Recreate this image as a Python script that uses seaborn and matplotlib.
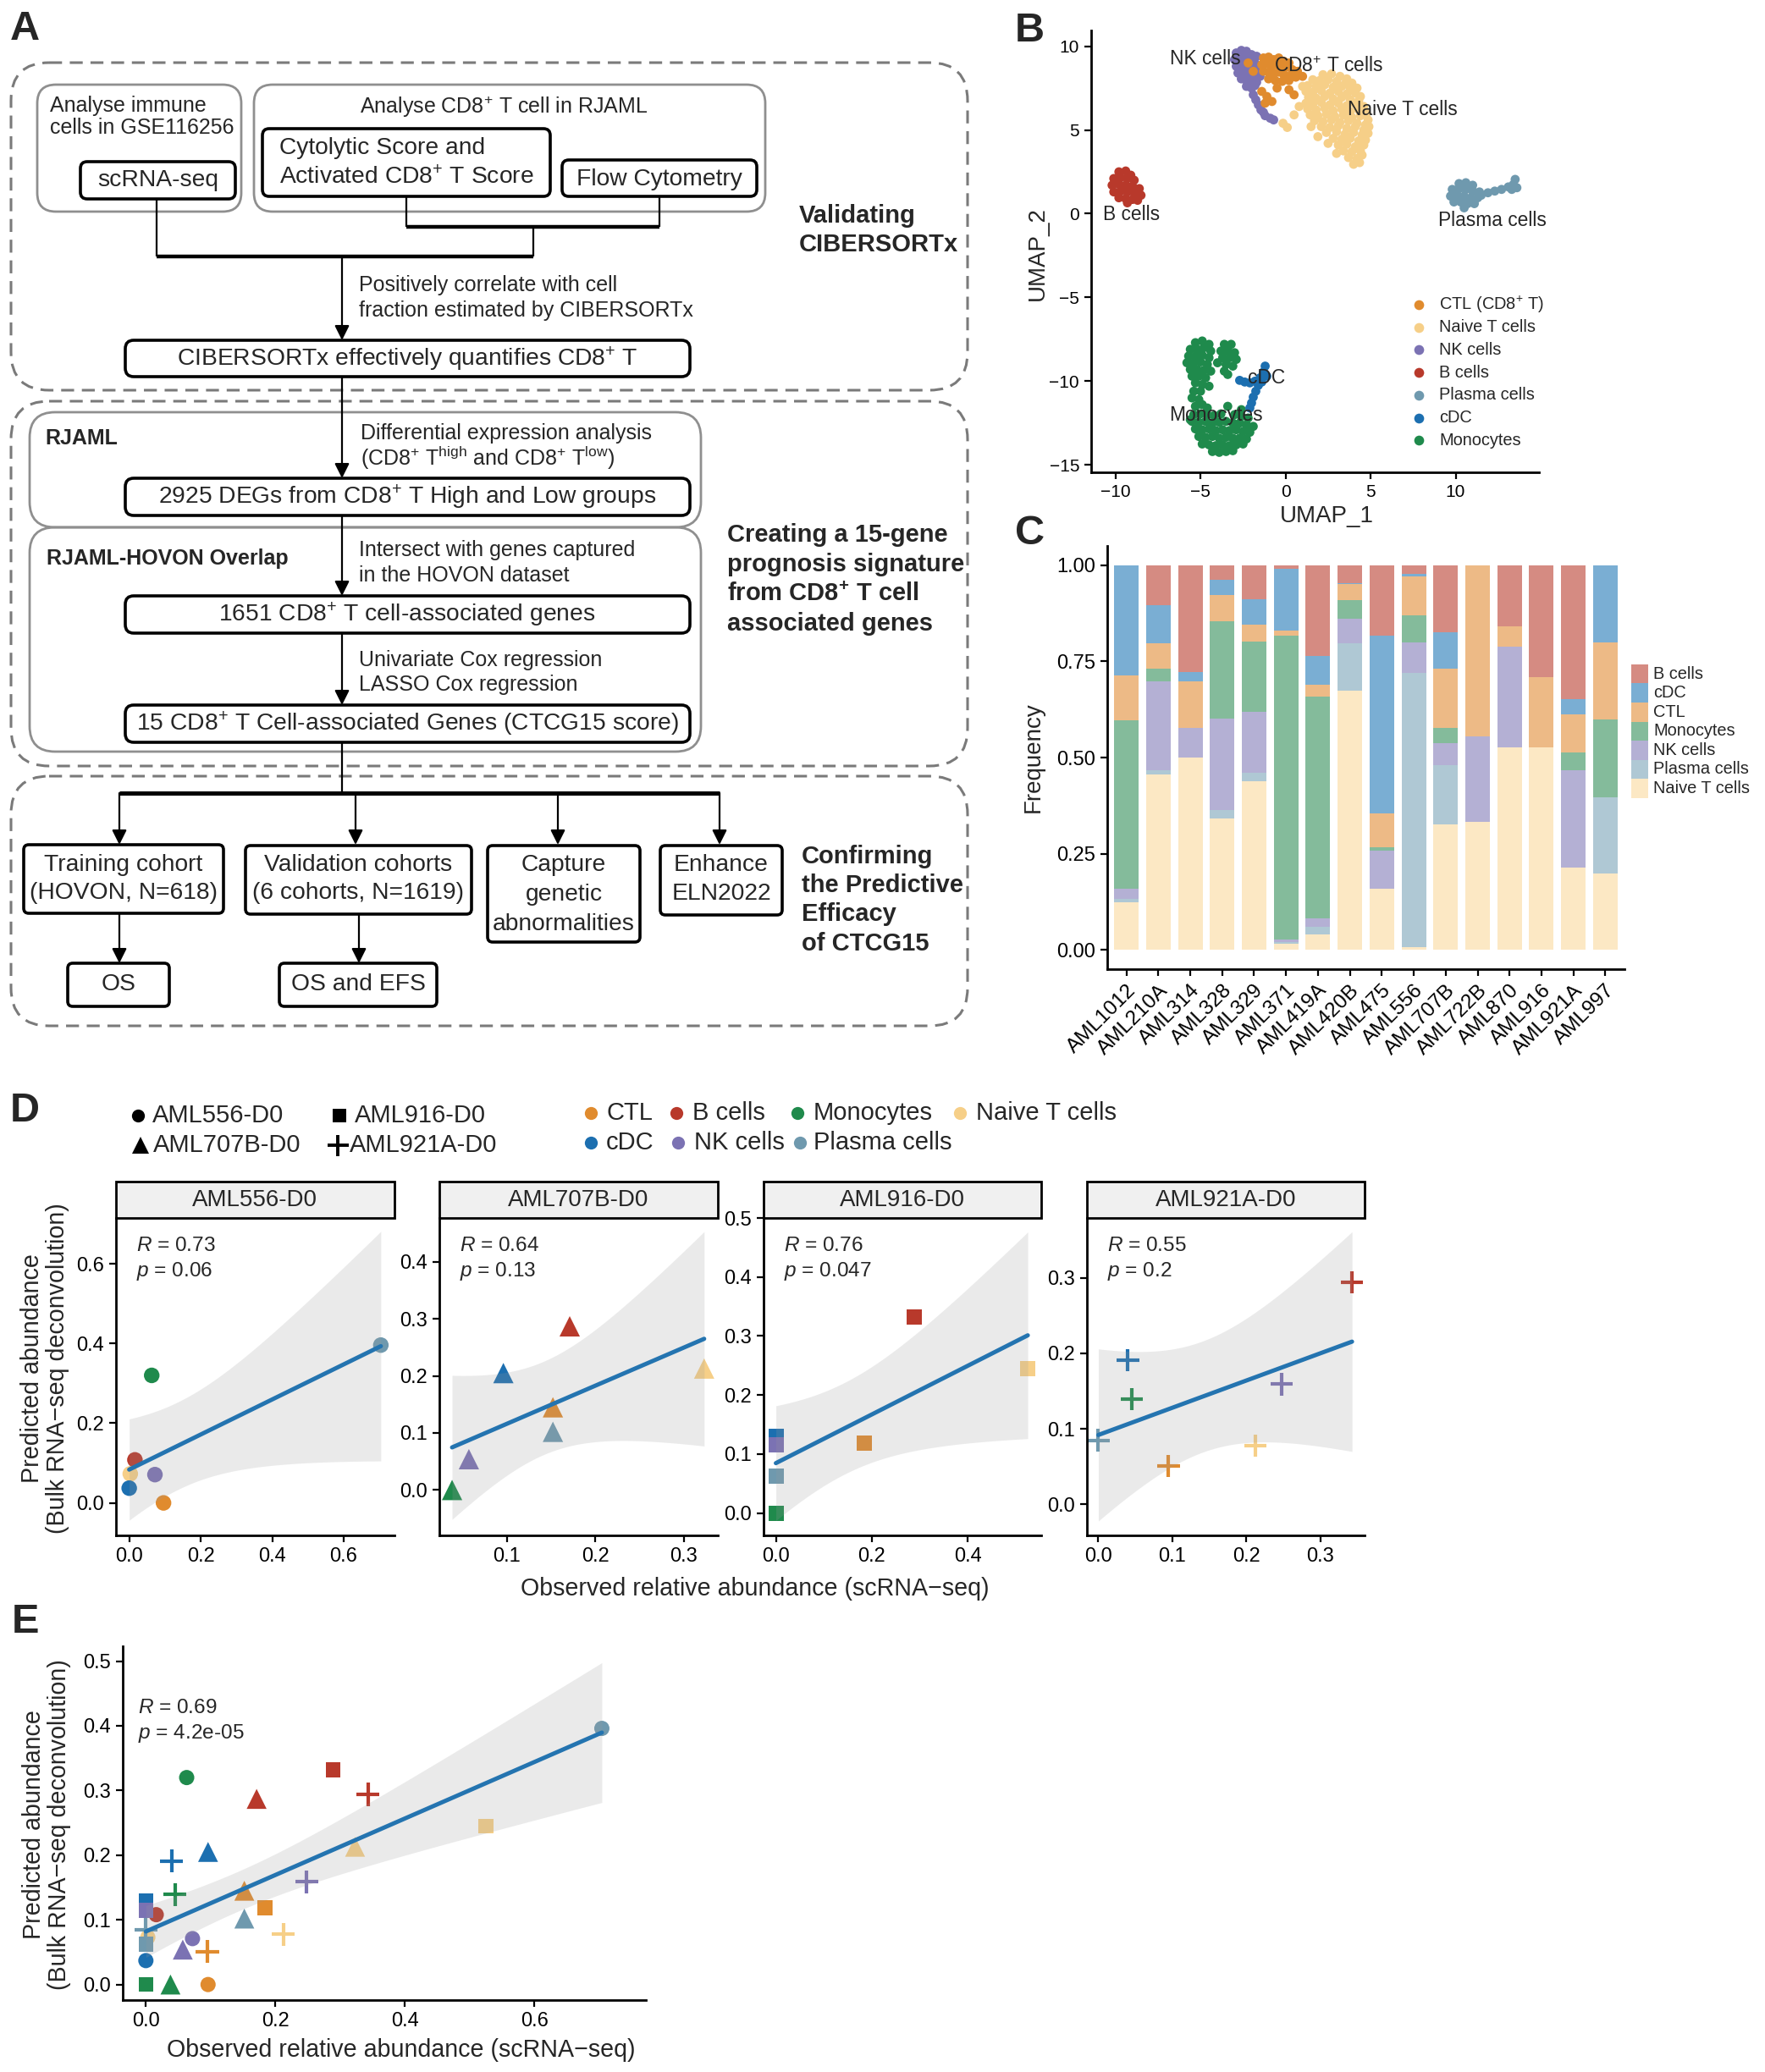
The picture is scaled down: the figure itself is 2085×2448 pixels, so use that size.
import numpy as np
import pandas as pd
import matplotlib
matplotlib.use("Agg")
import matplotlib.pyplot as plt
import seaborn as sns
from matplotlib.patches import FancyBboxPatch, Rectangle

# ---------------- panel B : UMAP points ----------------
umap_nk = [(-2.9, 9.6), (-2.6, 9.75), (-2.3, 9.7), (-2.0, 9.5), (-1.7, 9.4), (-3.0, 9.2), (-2.7, 9.3),
           (-2.4, 9.35), (-2.1, 9.15), (-1.8, 9.0), (-2.9, 8.8), (-2.6, 8.9), (-2.3, 8.75), (-2.0, 8.7),
           (-1.6, 8.6), (-2.8, 8.4), (-2.5, 8.5), (-2.2, 8.35), (-1.9, 8.3), (-1.5, 8.2), (-2.6, 8.05),
           (-2.3, 7.95), (-2.0, 7.9), (-1.7, 7.85), (-2.3, 7.6), (-2.0, 7.5), (-1.8, 7.65), (-1.9, 7.1),
           (-1.75, 6.8), (-1.6, 6.5), (-1.45, 6.2), (-1.2, 5.85), (-0.9, 5.7), (-0.7, 5.6), (-1.3, 6.05)]
umap_ctl = [(-1.3, 9.3), (-1.0, 9.35), (-0.7, 9.2), (-0.4, 9.3), (-0.1, 9.1), (0.2, 9.0), (-1.4, 8.9),
            (-1.1, 8.95), (-0.8, 8.8), (-0.5, 8.9), (-0.2, 8.7), (0.1, 8.75), (0.4, 8.6), (0.7, 8.5),
            (-1.3, 8.5), (-1.0, 8.45), (-0.7, 8.35), (-0.4, 8.45), (-0.1, 8.3), (0.3, 8.25), (0.6, 8.15),
            (1.0, 8.2), (-1.0, 8.05), (-0.6, 7.95), (-0.2, 7.9), (0.2, 7.95), (-1.4, 7.3), (-1.1, 7.0),
            (-1.2, 6.6), (-0.8, 6.7), (0.2, 7.4), (0.5, 7.1), (-0.5, 7.5), (-2.2, 9.0), (-1.9, 8.5)]
umap_naive = [(2.2, 8.3), (2.7, 8.35), (3.2, 8.2), (3.6, 8.05),
              (1.6, 8.0), (2.0, 7.95), (2.5, 8.0), (3.0, 7.9), (3.5, 7.75), (3.9, 7.8),
              (1.3, 7.65), (1.8, 7.6), (2.3, 7.7), (2.8, 7.55), (3.3, 7.6), (3.8, 7.45), (4.2, 7.5),
              (1.2, 7.3), (1.6, 7.25), (2.1, 7.35), (2.6, 7.2), (3.1, 7.3), (3.6, 7.15), (4.1, 7.2), (4.4, 7.0),
              (1.35, 6.95), (1.8, 6.9), (2.3, 7.0), (2.8, 6.85), (3.3, 6.95), (3.8, 6.8), (4.3, 6.75),
              (1.2, 6.6), (1.6, 6.55), (2.1, 6.65), (2.6, 6.5), (3.1, 6.6), (3.6, 6.45), (4.1, 6.55), (4.6, 6.4),
              (1.3, 6.25), (1.8, 6.2), (2.3, 6.3), (2.8, 6.15), (3.3, 6.25), (3.8, 6.1), (4.3, 6.2), (4.75, 6.0),
              (1.45, 5.9), (1.9, 5.85), (2.4, 5.95), (2.9, 5.8), (3.4, 5.9), (3.9, 5.75), (4.4, 5.85), (4.85, 5.6),
              (1.7, 5.55), (2.2, 5.5), (2.7, 5.6), (3.2, 5.45), (3.7, 5.55), (4.2, 5.4), (4.7, 5.3),
              (2.1, 5.2), (2.6, 5.15), (3.1, 5.25), (3.6, 5.1), (4.1, 5.2), (4.6, 5.0), (4.9, 5.2),
              (2.4, 4.85), (3.0, 4.9), (3.5, 4.75), (4.0, 4.85), (4.5, 4.7), (4.85, 4.8),
              (2.8, 4.5), (3.3, 4.45), (3.8, 4.5), (4.3, 4.35), (4.7, 4.4),
              (3.1, 4.1), (3.6, 4.15), (4.1, 4.0), (4.6, 4.1),
              (3.4, 3.75), (3.9, 3.7), (4.4, 3.75), (3.7, 3.35), (4.2, 3.3), (4.5, 3.5),
              (4.0, 2.95), (4.35, 3.05), (-0.15, 5.4), (0.1, 5.15), (0.8, 6.4), (0.5, 5.9),
              (1.0, 7.6), (1.9, 4.6), (1.5, 5.2), (3.0, 3.6), (2.5, 4.2)]
umap_b = [(-9.8, 2.5), (-9.4, 2.55), (-9.1, 2.3), (-10.1, 2.1), (-9.7, 2.15), (-9.3, 2.1), (-8.9, 2.0),
          (-10.2, 1.7), (-9.8, 1.75), (-9.4, 1.7), (-9.0, 1.65), (-8.6, 1.5), (-10.1, 1.3), (-9.7, 1.35),
          (-9.3, 1.3), (-8.9, 1.25), (-8.5, 1.1), (-9.8, 0.95), (-9.4, 0.9), (-9.0, 0.85), (-9.3, 0.65),
          (-8.7, 0.8)]
umap_plasma = [(10.2, 1.8), (10.6, 1.85), (11.0, 1.7), (9.8, 1.45), (10.2, 1.5), (10.6, 1.45), (11.0, 1.35),
               (11.4, 1.3), (9.7, 1.05), (10.1, 1.1), (10.5, 1.05), (10.9, 0.95), (11.3, 0.95), (9.9, 0.7),
               (10.3, 0.7), (10.7, 0.6), (11.1, 0.6), (10.5, 0.35), (11.5, 1.1), (11.9, 1.25), (12.3, 1.35),
               (12.7, 1.45), (13.1, 1.6), (13.4, 1.75), (13.5, 2.05), (13.3, 1.45), (13.6, 1.55)]
umap_cdc = [(-2.7, -9.95), (-2.4, -10.05), (-2.1, -10.1), (-1.8, -10.0), (-1.5, -9.8), (-1.3, -9.45),
            (-1.2, -9.1), (-1.6, -10.25), (-1.75, -10.6), (-1.9, -10.95), (-2.0, -11.3), (-2.1, -11.6),
            (-1.4, -10.05), (-1.1, -9.7)]
umap_mono = [(-5.3, -7.7), (-4.9, -7.6), (-4.5, -7.8), (-5.6, -8.1), (-5.2, -8.1), (-4.8, -8.0), (-4.4, -8.2),
             (-5.7, -8.5), (-5.3, -8.5), (-4.9, -8.45), (-4.5, -8.6), (-5.8, -8.9), (-5.4, -8.9), (-5.0, -8.85),
             (-4.6, -9.0), (-5.6, -9.3), (-5.2, -9.3), (-4.8, -9.35), (-4.4, -9.4), (-5.5, -9.7), (-5.1, -9.7),
             (-4.7, -9.8), (-5.3, -10.1), (-4.9, -10.2), (-4.5, -10.3),
             (-3.6, -7.8), (-3.2, -7.8), (-3.8, -8.2), (-3.4, -8.2), (-3.0, -8.3), (-3.7, -8.6), (-3.3, -8.6),
             (-2.9, -8.7), (-3.5, -9.0), (-3.1, -9.1), (-3.6, -9.4), (-4.0, -8.9), (-3.4, -9.6),
             (-5.4, -10.6), (-5.0, -10.6), (-5.5, -11.0), (-5.1, -11.1), (-5.3, -11.5), (-4.9, -11.4), (-4.6, -11.6),
             (-3.4, -11.5), (-2.6, -11.7), (-5.4, -12.0), (-5.0, -11.95), (-4.6, -12.0),
             (-4.2, -12.05), (-3.8, -11.95), (-3.0, -12.0), (-2.6, -12.1), (-2.2, -12.2),
             (-5.5, -12.4), (-5.1, -12.45), (-4.7, -12.4), (-4.3, -12.5), (-3.9, -12.45), (-3.5, -12.4),
             (-3.1, -12.5), (-2.7, -12.5), (-2.3, -12.6), (-1.9, -12.7), (-5.3, -12.85), (-4.9, -12.9),
             (-4.5, -12.85), (-4.1, -12.95), (-3.7, -12.9), (-3.3, -12.95), (-2.9, -12.9), (-2.5, -13.0),
             (-2.1, -13.05), (-5.1, -13.3), (-4.7, -13.35), (-4.3, -13.3), (-3.9, -13.4), (-3.5, -13.35),
             (-3.1, -13.4), (-2.7, -13.4), (-2.3, -13.45), (-4.9, -13.75), (-4.5, -13.8), (-4.1, -13.85),
             (-3.7, -13.8), (-3.3, -13.85), (-2.9, -13.8), (-2.5, -13.75), (-4.3, -14.2), (-3.9, -14.25),
             (-3.5, -14.2), (-3.1, -14.15), (-5.6, -12.3)]
umap_labels = ["NK cells", "CD8$^{+}$ T cells", "Naive T cells", "B cells", "Plasma cells", "cDC", "Monocytes"]
umap_label_xy = [(-4.7, 9.23), (2.55, 8.78), (6.9, 6.24), (-9.05, -0.05), (12.15, -0.39), (-1.1, -9.79), (-4.1, -12.05)]
umap_legend = ["CTL (CD8$^{+}$ T)", "Naive T cells", "NK cells", "B cells", "Plasma cells", "cDC", "Monocytes"]

# ---------------- panel C : cell fractions per sample ----------------
samples_c = ["AML1012", "AML210A", "AML314", "AML328", "AML329", "AML371", "AML419A", "AML420B",
             "AML475", "AML556", "AML707B", "AML722B", "AML870", "AML916", "AML921A", "AML997"]
freq_naive = [0.123, 0.456, 0.499, 0.341, 0.438, 0.017, 0.041, 0.673, 0.160, 0.008, 0.326, 0.332, 0.526, 0.526, 0.213, 0.199]
freq_plasma = [0.009, 0.011, 0.002, 0.022, 0.022, 0.004, 0.020, 0.124, 0.000, 0.711, 0.154, 0.000, 0.000, 0.000, 0.000, 0.198]
freq_nk = [0.026, 0.230, 0.077, 0.239, 0.159, 0.005, 0.022, 0.063, 0.098, 0.080, 0.058, 0.224, 0.263, 0.000, 0.254, 0.000]
freq_mono = [0.439, 0.033, 0.000, 0.252, 0.183, 0.791, 0.575, 0.050, 0.009, 0.071, 0.038, 0.000, 0.000, 0.000, 0.046, 0.202]
freq_ctl = [0.116, 0.067, 0.119, 0.069, 0.043, 0.013, 0.031, 0.040, 0.087, 0.101, 0.154, 0.444, 0.052, 0.183, 0.099, 0.200]
freq_cdc = [0.287, 0.099, 0.026, 0.038, 0.067, 0.161, 0.074, 0.004, 0.463, 0.007, 0.096, 0.000, 0.000, 0.000, 0.040, 0.201]
freq_b = [0.000, 0.104, 0.277, 0.039, 0.088, 0.009, 0.237, 0.046, 0.183, 0.022, 0.174, 0.000, 0.159, 0.291, 0.348, 0.000]
legend_c = ["B cells", "cDC", "CTL", "Monocytes", "NK cells", "Plasma cells", "Naive T cells"]

# ---------------- panels D / E : observed vs predicted ----------------
cell_types = ["CTL", "B cells", "Monocytes", "Naive T cells", "cDC", "NK cells", "Plasma cells"]
d_samples = ["AML556-D0", "AML707B-D0", "AML916-D0", "AML921A-D0"]
obs_556 = [0.096, 0.016, 0.063, 0.003, 0.000, 0.072, 0.704]
pred_556 = [0.000, 0.108, 0.320, 0.073, 0.037, 0.071, 0.396]
obs_707b = [0.152, 0.171, 0.038, 0.323, 0.096, 0.057, 0.152]
pred_707b = [0.145, 0.287, 0.000, 0.213, 0.205, 0.054, 0.102]
obs_916 = [0.184, 0.289, 0.000, 0.525, 0.000, 0.000, 0.000]
pred_916 = [0.119, 0.332, 0.000, 0.245, 0.130, 0.115, 0.062]
obs_921a = [0.095, 0.343, 0.045, 0.212, 0.040, 0.248, 0.000]
pred_921a = [0.051, 0.294, 0.139, 0.078, 0.191, 0.159, 0.085]
d_r_text = ["0.73", "0.64", "0.76", "0.55"]
d_p_text = ["0.06", "0.13", "0.047", "0.2"]
e_r_text = "0.69"
e_p_text = "4.2e-05"

# ---------------- style ----------------
W, H, DPI = 2085, 2448, 200
sns.set_theme(style="ticks")
plt.rcParams["font.family"] = ["Liberation Sans", "DejaVu Sans"]
plt.rcParams["mathtext.fontset"] = "custom"
plt.rcParams["mathtext.rm"] = "Liberation Sans"
plt.rcParams["mathtext.it"] = "Liberation Sans:italic"
plt.rcParams["mathtext.bf"] = "Liberation Sans:bold"
plt.rcParams["axes.linewidth"] = 1.0
plt.rcParams["axes.edgecolor"] = "black"
plt.rcParams["xtick.color"] = "black"
plt.rcParams["ytick.color"] = "black"

umap_palette = {"CTL": "#E08B2E", "Naive T cells": "#F6CF88", "NK cells": "#7B72B3", "B cells": "#B8392B",
                "Plasma cells": "#6F99AE", "cDC": "#1C6FB0", "Monocytes": "#1F8A4C"}
bar_palette = {"B cells": "#D58B82", "cDC": "#7AAED3", "CTL": "#EDBA86", "Monocytes": "#84BB9B",
               "NK cells": "#B4B0D4", "Plasma cells": "#AFC8D4", "Naive T cells": "#FCE8C4"}
line_blue = "#2474B0"

fig = plt.figure(figsize=(W / DPI, H / DPI), dpi=DPI)


def px_rect(x0, y0, x1, y1):
    return [x0 / W, 1 - y1 / H, (x1 - x0) / W, (y1 - y0) / H]


ov = fig.add_axes([0, 0, 1, 1])
ov.set_xlim(0, W)
ov.set_ylim(H, 0)
ov.axis("off")


def T(x, y, s, size=9, ha="left", va="center", weight="normal", **kw):
    ov.text(x, y, s, fontsize=size, ha=ha, va=va, fontweight=weight, **kw)


def rbox(x0, y0, x1, y1, r, ec="black", lw=1.3, ls="-"):
    ov.add_patch(FancyBboxPatch((x0, y0), x1 - x0, y1 - y0, boxstyle=f"round,pad=0,rounding_size={r}",
                                fc="none", ec=ec, lw=lw, ls=ls))


def seg(x0, y0, x1, y1, lw=0.8):
    ov.plot([x0, x1], [y0, y1], color="black", lw=lw, solid_capstyle="butt")


def arrow(x, y0, y1, lw=0.8):
    ov.annotate("", xy=(x, y1), xytext=(x, y0),
                arrowprops=dict(arrowstyle="-|>", color="black", lw=lw, mutation_scale=13,
                                shrinkA=0, shrinkB=0))


# ---------------- panel A : workflow diagram ----------------
BT = 10.2   # box text
ST = 9      # side notes
dash_kw = dict(ec="#7a7a7a", lw=1.1, ls=(0, (5, 3)))
rbox(13, 74, 1143, 461, 45, **dash_kw)
rbox(13, 474, 1143, 905, 45, **dash_kw)
rbox(13, 917, 1143, 1212, 45, **dash_kw)

rbox(44, 100, 285, 250, 22, ec="#8f8f8f", lw=1.0)
rbox(300, 100, 904, 250, 22, ec="#8f8f8f", lw=1.0)
T(59, 125, "Analyse immune", ST)
T(59, 151, "cells in GSE116256", ST)
rbox(95, 191, 278, 235, 8)
T(187, 213, "scRNA-seq", BT, ha="center")
T(595, 126, "Analyse CD8$^{+}$ T cell in RJAML", ST, ha="center")
rbox(310, 152, 650, 232, 8)
T(330, 175, "Cytolytic Score and", BT)
T(330, 210, "Activated CD8$^{+}$ T Score", BT)
rbox(664, 189, 894, 232, 8)
T(779, 212, "Flow Cytometry", BT, ha="center")
seg(185, 235, 185, 303)
seg(480, 232, 480, 268)
seg(779, 232, 779, 268)
seg(480, 268, 779, 268, lw=1.6)
seg(630, 268, 630, 303)
seg(185, 303, 630, 303, lw=1.6)
arrow(404, 303, 402)
T(424, 337, "Positively correlate with cell", ST)
T(424, 367, "fraction estimated by CIBERSORTx", ST)
rbox(148, 402, 815, 445, 10)
T(481, 424, "CIBERSORTx effectively quantifies CD8$^{+}$ T", BT, ha="center")
T(944, 255, "Validating", 10.5, weight="bold")
T(944, 289, "CIBERSORTx", 10.5, weight="bold")

rbox(35, 487, 828, 623, 30, ec="#8f8f8f", lw=1.0)
rbox(35, 623, 828, 888, 30, ec="#8f8f8f", lw=1.0)
T(53, 518, "RJAML", 9, weight="bold")
arrow(404, 445, 565)
T(426, 512, "Differential expression analysis", ST)
T(426, 541, "(CD8$^{+}$ T$^{\\mathrm{high}}$ and CD8$^{+}$ T$^{\\mathrm{low}}$)", ST)
rbox(148, 565, 815, 609, 10)
T(481, 587, "2925 DEGs from CD8$^{+}$ T High and Low groups", BT, ha="center")
arrow(404, 609, 704)
T(55, 660, "RJAML-HOVON Overlap", 9, weight="bold")
T(424, 650, "Intersect with genes captured", ST)
T(424, 680, "in the HOVON dataset", ST)
rbox(148, 704, 815, 748, 10)
T(481, 726, "1651 CD8$^{+}$ T cell-associated genes", BT, ha="center")
arrow(404, 748, 833)
T(424, 780, "Univariate Cox regression", ST)
T(424, 809, "LASSO Cox regression", ST)
rbox(148, 833, 815, 877, 10)
T(481, 855, "15 CD8$^{+}$ T Cell-associated Genes (CTCG15 score)", BT, ha="center")
for yy, s in zip([632, 667, 702, 737], ["Creating a 15-gene", "prognosis signature",
                                       "from CD8$^{\\mathbf{+}}$ T cell", "associated genes"]):
    T(859, yy, s, 10.5, weight="bold")

seg(404, 877, 404, 937)
seg(141, 937, 850, 937, lw=1.8)
for xx in [141, 420, 659, 850]:
    arrow(xx, 937, 998)
rbox(28, 998, 264, 1079, 6)
T(146, 1022, "Training cohort", BT, ha="center")
T(146, 1055, "(HOVON, N=618)", BT, ha="center")
rbox(290, 999, 557, 1080, 6)
T(423, 1022, "Validation cohorts", BT, ha="center")
T(423, 1055, "(6 cohorts, N=1619)", BT, ha="center")
rbox(576, 999, 756, 1113, 6)
T(666, 1022, "Capture", BT, ha="center")
T(666, 1057, "genetic", BT, ha="center")
T(666, 1092, "abnormalities", BT, ha="center")
rbox(780, 999, 924, 1081, 6)
T(852, 1022, "Enhance", BT, ha="center")
T(852, 1056, "ELN2022", BT, ha="center")
arrow(141, 1079, 1138)
rbox(80, 1138, 200, 1189, 6)
T(140, 1163, "OS", BT, ha="center")
arrow(424, 1080, 1138)
rbox(330, 1138, 516, 1189, 6)
T(423, 1163, "OS and EFS", BT, ha="center")
for yy, s in zip([1012, 1046, 1080, 1115], ["Confirming", "the Predictive", "Efficacy", "of CTCG15"]):
    T(947, yy, s, 10.5, weight="bold")

# panel letters
for (xx, yy), s in zip([(12, 12), (1199, 14), (1199, 608), (12, 1290), (14, 1894)], "ABCDE"):
    T(xx, yy, s, 17.5, va="top", weight="bold")

# ---------------- panel B : UMAP ----------------
umap_sets = [("Naive T cells", umap_naive), ("NK cells", umap_nk), ("CTL", umap_ctl), ("B cells", umap_b),
             ("Plasma cells", umap_plasma), ("Monocytes", umap_mono), ("cDC", umap_cdc)]
umap_df = pd.concat([pd.DataFrame(np.array(p), columns=["UMAP_1", "UMAP_2"]).assign(cell=c)
                     for c, p in umap_sets], ignore_index=True)
axB = fig.add_axes(px_rect(1289, 36, 1818, 558), facecolor="none")
sns.scatterplot(data=umap_df, x="UMAP_1", y="UMAP_2", hue="cell", palette=umap_palette, s=15,
                linewidth=0, legend=False, ax=axB)
axB.set_xlim(-11.43, 14.9)
axB.set_ylim(-15.44, 10.94)
axB.set_xticks([-10, -5, 0, 5, 10])
axB.set_yticks([-15, -10, -5, 0, 5, 10])
axB.set_xlabel("")
axB.set_ylabel("")
axB.tick_params(labelsize=7.5, length=3, width=0.8, pad=2)
sns.despine(ax=axB)
for s, (xx, yy) in zip(umap_labels, umap_label_xy):
    axB.text(xx, yy, s, fontsize=8.2, ha="center", va="center")
T(1567, 610, "UMAP_1", 10, ha="center")
T(1226, 300, "UMAP_2", 10, ha="center", rotation=90)
leg_keys = ["CTL", "Naive T cells", "NK cells", "B cells", "Plasma cells", "cDC", "Monocytes"]
for i, (k, s) in enumerate(zip(leg_keys, umap_legend)):
    yy = 360 + i * 26.7
    ov.plot(1676, yy, "o", ms=4.2, color=umap_palette[k], mec="none")
    T(1700, yy, s, 7.2)

# ---------------- panel C : stacked bars ----------------
axC = fig.add_axes(px_rect(1308, 645, 1919, 1145), facecolor="none")
xpos = np.arange(len(samples_c))
bottom = np.zeros(len(samples_c))
for name, vals in [("Naive T cells", freq_naive), ("Plasma cells", freq_plasma), ("NK cells", freq_nk),
                   ("Monocytes", freq_mono), ("CTL", freq_ctl), ("cDC", freq_cdc), ("B cells", freq_b)]:
    axC.bar(xpos, vals, bottom=bottom, width=0.77, color=bar_palette[name], linewidth=0)
    bottom = bottom + np.array(vals)
axC.set_xlim(-0.6, len(samples_c) - 0.4)
axC.set_ylim(-0.05, 1.05)
axC.set_xticks(xpos)
axC.set_xticklabels(samples_c, rotation=45, ha="right", rotation_mode="anchor")
axC.set_yticks([0, 0.25, 0.5, 0.75, 1.0])
axC.set_yticklabels(["0.00", "0.25", "0.50", "0.75", "1.00"])
axC.tick_params(axis="y", labelsize=8.5, length=3, width=0.8, pad=2)
axC.tick_params(axis="x", labelsize=8.8, length=3, width=0.8, pad=2)
sns.despine(ax=axC)
T(1221, 895, "Frequency", 10, ha="center", rotation=90)
for i, k in enumerate(legend_c):
    yy = 796 + i * 22.6
    ov.add_patch(Rectangle((1927, yy - 11.3), 20, 22.6, fc=bar_palette[k], ec="none"))
    T(1953, yy, k, 7.2)


# ---------------- panels D and E ----------------
def draw_points(ax, obs, pred, marker, size):
    if marker == "+":
        ax.scatter(obs, pred, c=[umap_palette[c] for c in cell_types], marker="+", s=size,
                   linewidths=1.5, zorder=2)
    else:
        sns.scatterplot(x=obs, y=pred, hue=cell_types, palette=umap_palette, marker=marker, s=size,
                        linewidth=0, legend=False, ax=ax, zorder=2)


def lm_fit(ax, obs, pred, tval):
    x = np.asarray(obs, float)
    y = np.asarray(pred, float)
    b, a = np.polyfit(x, y, 1)
    xs = np.linspace(x.min(), x.max(), 100)
    s = np.sqrt(np.sum((y - (a + b * x)) ** 2) / (len(x) - 2))
    se = s * np.sqrt(1 / len(x) + (xs - x.mean()) ** 2 / np.sum((x - x.mean()) ** 2))
    fit = a + b * xs
    ax.fill_between(xs, fit - tval * se, fit + tval * se, color="#9a9a9a", alpha=0.2, lw=0, zorder=3)
    sns.regplot(x=x, y=y, scatter=False, ci=None, color=line_blue, line_kws=dict(lw=1.8, zorder=4), ax=ax)


def style_xy(ax, xlim, ylim, xt, yt):
    ax.set_xlim(*xlim)
    ax.set_ylim(*ylim)
    ax.set_xticks(xt)
    ax.set_yticks(yt)
    ax.set_xticklabels([f"{v:.1f}" for v in xt])
    ax.set_yticklabels([f"{v:.1f}" for v in yt])
    ax.set_xlabel("")
    ax.set_ylabel("")
    ax.tick_params(labelsize=8.5, length=3, width=0.8, pad=2)
    sns.despine(ax=ax)


d_obs = [obs_556, obs_707b, obs_916, obs_921a]
d_pred = [pred_556, pred_707b, pred_916, pred_921a]
d_markers = ["o", "^", "s", "+"]
d_sizes = [44, 75, 42, 90]
d_xlims = [(-0.037, 0.741), (0.0236, 0.338), (-0.0265, 0.553), (-0.016, 0.360)]
d_ylims = [(-0.0815, 0.715), (-0.0796, 0.477), (-0.038, 0.5), (-0.041, 0.379)]
d_xticks = [[0, 0.2, 0.4, 0.6], [0.1, 0.2, 0.3], [0, 0.2, 0.4], [0, 0.1, 0.2, 0.3]]
d_yticks = [[0, 0.2, 0.4, 0.6], [0, 0.1, 0.2, 0.3, 0.4], [0, 0.1, 0.2, 0.3, 0.4, 0.5], [0, 0.1, 0.2, 0.3]]
fw = 328.5
for i, x0 in enumerate([137, 519, 901.5, 1283.5]):
    ax = fig.add_axes(px_rect(x0, 1439, x0 + fw, 1814), facecolor="none")
    draw_points(ax, d_obs[i], d_pred[i], d_markers[i], d_sizes[i])
    lm_fit(ax, d_obs[i], d_pred[i], 2.5706)
    style_xy(ax, d_xlims[i], d_ylims[i], d_xticks[i], d_yticks[i])
    ov.add_patch(Rectangle((x0, 1396), fw, 43, fc="#F0F0F0", ec="black", lw=1.0))
    T(x0 + fw / 2, 1418, d_samples[i], 10, ha="center")
    T(x0 + 24, 1472, f"$R$ = {d_r_text[i]}", 8.8)
    T(x0 + 24, 1502, f"$p$ = {d_p_text[i]}", 8.8)

T(53, 1617, "Predicted abundance\n(Bulk RNA\u2212seq deconvolution)", 10.3, ha="center",
  rotation=90, multialignment="center", linespacing=1.05)
T(892, 1877, "Observed relative abundance (scRNA\u2212seq)", 10.3, ha="center")

# top legends of panel D
for (mx, my, tx, m, s) in [(163, 1318, 180, "o", "AML556-D0"), (166, 1353, 181, "^", "AML707B-D0"),
                           (401, 1318, 419, "s", "AML916-D0"), (399, 1353, 413, "+", "AML921A-D0")]:
    ov.plot(mx, my, m, ms={"o": 5.5, "^": 7, "s": 5.5, "+": 9}[m], color="black",
            mec="black" if m == "+" else "none", mew=1.4)
    T(tx, my, s, 10.5)
for (mx, my, tx, k) in [(698, 1315, 716, "CTL"), (799, 1315, 818, "B cells"), (942, 1315, 961, "Monocytes"),
                        (1134, 1315, 1153, "Naive T cells"), (698, 1350, 716, "cDC"),
                        (801, 1350, 820, "NK cells"), (945, 1350, 961, "Plasma cells")]:
    ov.plot(mx, my, "o", ms=5.5, color=umap_palette[k], mec="none")
    T(tx, my, k, 10.5)

# panel E: all samples pooled
axE = fig.add_axes(px_rect(145, 1945, 763, 2363), facecolor="none")
for i in range(4):
    draw_points(axE, d_obs[i], d_pred[i], d_markers[i], [42, 72, 40, 95][i])
lm_fit(axE, sum(d_obs, []), sum(d_pred, []), 2.0555)
style_xy(axE, (-0.0357, 0.772), (-0.024, 0.523), [0, 0.2, 0.4, 0.6], [0, 0.1, 0.2, 0.3, 0.4, 0.5])
T(163, 2018, f"$R$ = {e_r_text}", 8.8)
T(163, 2048, f"$p$ = {e_p_text}", 8.8)
T(55, 2156, "Predicted abundance\n(Bulk RNA\u2212seq deconvolution)", 10.3, ha="center",
  rotation=90, multialignment="center", linespacing=1.05)
T(474, 2422, "Observed relative abundance (scRNA\u2212seq)", 10.3, ha="center")

fig.savefig("out.png", dpi=DPI)
